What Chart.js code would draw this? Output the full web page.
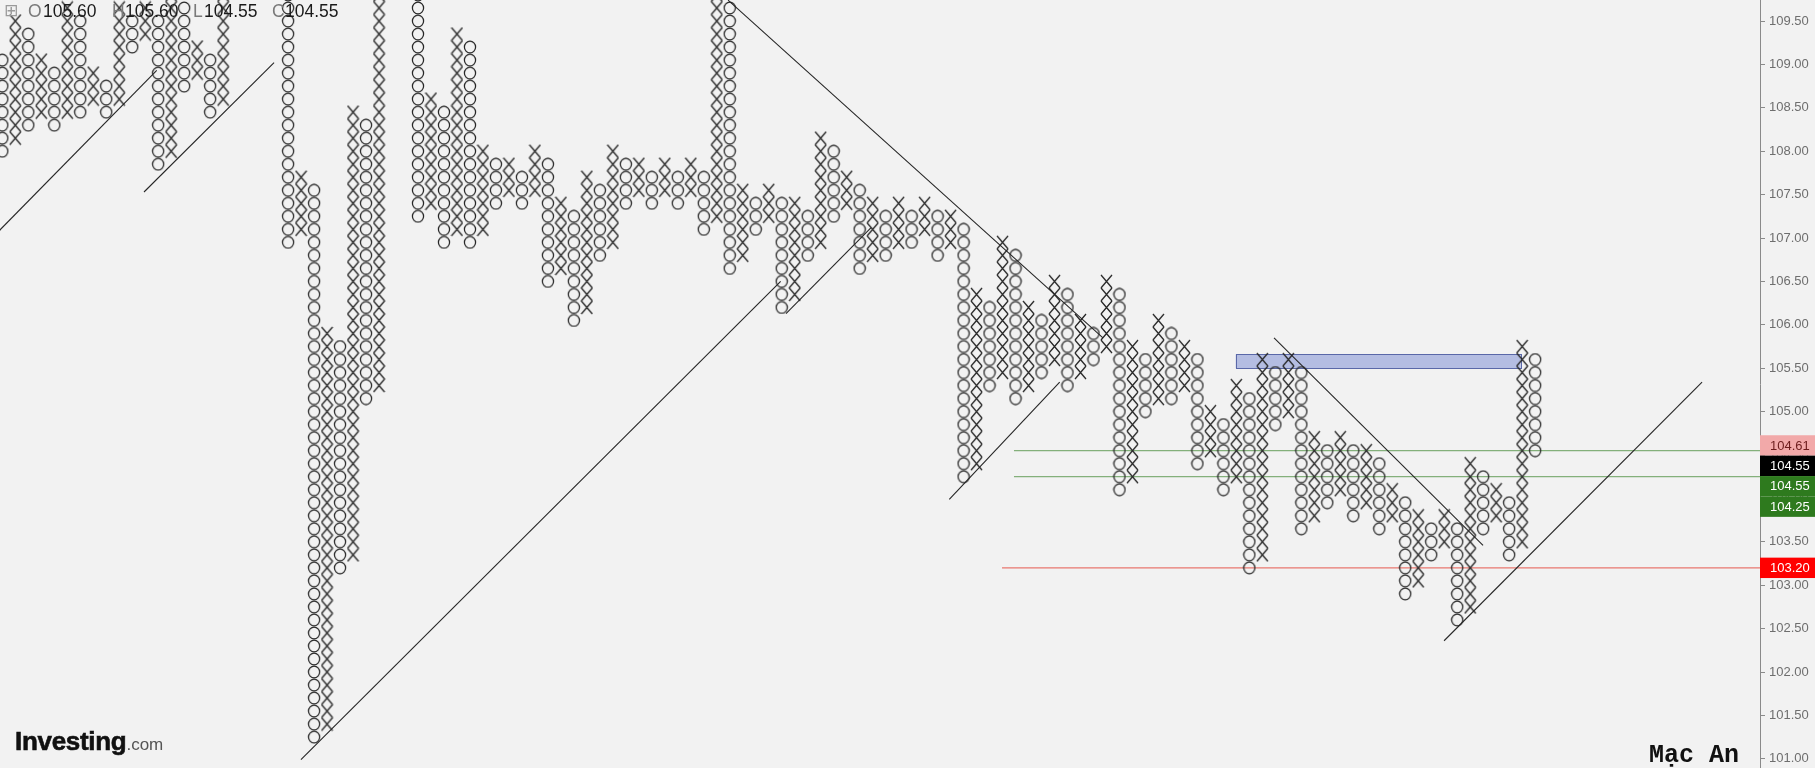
<!DOCTYPE html>
<html>
<head>
<meta charset="utf-8">
<script src="https://cdn.jsdelivr.net/npm/chart.js@4.4.1/dist/chart.umd.min.js"></script>
<style>
  html, body { margin: 0; padding: 0; background: #f2f2f2; }
  #wrap { position: relative; width: 1815px; height: 768px; overflow: hidden; background: #f2f2f2; }
  #pf { position: absolute; left: 0; top: 0; }
  .t { position: absolute; white-space: nowrap; line-height: 1; }
  .lab { font: 17.5px "Liberation Sans", Arial, sans-serif; color: #7a7a7a; top: 1px; }
  .val { font: 17.5px "Liberation Sans", Arial, sans-serif; color: #1a1a1a; top: 1px; }
</style>
</head>
<body>
<div id="wrap">
  <canvas id="pf" width="1815" height="768"></canvas>

  <div class="t" style="left:4px;top:0px;font:17px 'DejaVu Sans';color:#9a9a9a;">⊞</div>
  <div class="t lab" style="left:28px">O</div><div class="t val" style="left:43px">105.60</div>
  <div class="t lab" style="left:112px">H</div><div class="t val" style="left:125px">105.60</div>
  <div class="t lab" style="left:193px">L</div><div class="t val" style="left:204px">104.55</div>
  <div class="t lab" style="left:272px">C</div><div class="t val" style="left:285px">104.55</div>

  <div class="t" style="left:15px;top:726px;line-height:26px;">
    <span style="font:bold 26px 'Liberation Sans', Arial, sans-serif;color:#111;letter-spacing:-0.3px;-webkit-text-stroke:0.6px #111;">Investing</span><span style="font:17px 'Liberation Sans', Arial, sans-serif;color:#555;">.com</span>
  </div>
  <div class="t" style="left:1649px;top:741px;font:bold 25px 'Liberation Mono', monospace;color:#111;">Mạc An</div>
</div>

<script>
// ------------------------------------------------------- //
// Point & figure data (box size 0.15, 3-box reversal)
// ------------------------------------------------------ //
var BOX = 0.15;
var firstKind = 'O';   // columns alternate O / X from the left

var colHigh = [
  109.05, 109.50, 109.35, 109.05, 108.90, 109.65, 109.50, 108.90, 108.75, 109.65,
  109.50, 109.65, 109.50, 109.80, 109.65, 109.20, 109.05, 110.40, 110.25, 110.55,
  110.40, 110.70, 110.55, 107.70, 107.55, 105.90, 105.75, 108.45, 108.30, 110.55,
  110.40, 110.70, 110.55, 108.60, 108.45, 109.35, 109.20, 108.00, 107.85, 107.85,
  107.70, 108.00, 107.85, 107.40, 107.25, 107.70, 107.55, 108.00, 107.85, 107.85,
  107.70, 107.85, 107.70, 107.85, 107.70, 109.80, 109.65, 107.55, 107.40, 107.55,
  107.40, 107.40, 107.25, 108.15, 108.00, 107.70, 107.55, 107.40, 107.25, 107.40,
  107.25, 107.40, 107.25, 107.25, 107.10, 106.35, 106.20, 106.95, 106.80, 106.20,
  106.05, 106.50, 106.35, 106.05, 105.90, 106.50, 106.35, 105.75, 105.60, 106.05,
  105.90, 105.75, 105.60, 105.00, 104.85, 105.30, 105.15, 105.60, 105.45, 105.60,
  105.45, 104.70, 104.55, 104.70, 104.55, 104.55, 104.40, 104.10, 103.95, 103.80,
  103.65, 103.80, 103.65, 104.40, 104.25, 104.10, 103.95, 105.75, 105.60
];

var colLow = [
  108.00, 108.15, 108.30, 108.45, 108.30, 108.45, 108.45, 108.60, 108.45, 108.60,
  109.20, 109.35, 107.85, 108.00, 108.75, 108.90, 108.45, 108.60, 109.95, 110.10,
  110.10, 110.25, 106.95, 107.10, 101.25, 101.40, 103.20, 103.35, 105.15, 105.30,
  110.10, 110.25, 107.25, 107.40, 106.95, 107.10, 106.95, 107.10, 107.40, 107.55,
  107.40, 107.55, 106.50, 106.65, 106.05, 106.20, 106.80, 106.95, 107.40, 107.55,
  107.40, 107.55, 107.40, 107.55, 107.10, 107.25, 106.65, 106.80, 107.10, 107.25,
  106.20, 106.35, 106.80, 106.95, 107.25, 107.40, 106.65, 106.80, 106.80, 106.95,
  106.95, 107.10, 106.80, 106.95, 104.25, 104.40, 105.30, 105.45, 105.15, 105.30,
  105.45, 105.60, 105.30, 105.45, 105.60, 105.75, 104.10, 104.25, 105.00, 105.15,
  105.15, 105.30, 104.40, 104.55, 104.10, 104.25, 103.20, 103.35, 104.85, 105.00,
  103.65, 103.80, 103.95, 104.10, 103.80, 103.95, 103.65, 103.80, 102.90, 103.05,
  103.35, 103.50, 102.60, 102.75, 103.65, 103.80, 103.35, 103.50, 104.55
];

var tickLabels = [101.0, 101.5, 102.0, 102.5, 103.0, 103.5, 104.0, 104.5, 105.0,
                  105.5, 106.0, 106.5, 107.0, 107.5, 108.0, 108.5, 109.0, 109.5];

// trend lines: [column, price, column, price]
var trendLines = [
  [0.60, 107.06, 12.89, 108.93],
  [11.91, 107.53, 21.92, 109.02],
  [23.99, 100.99, 60.92, 106.50],
  [61.33, 106.13, 67.88, 107.12],
  [56.87, 109.74, 85.73, 105.85],
  [73.90, 103.99, 82.40, 105.34],
  [98.90, 105.85, 114.99, 103.46],
  [111.99, 102.36, 131.85, 105.34]
];

// horizontal levels
var levelPrices = [104.55, 104.25, 103.20];
var levelFrom   = [78.88, 78.88, 77.96];

// resistance zone (columns / prices)
var zoneCols   = [95.95, 117.89];
var zonePrices = [105.50, 105.66];

// price tags on the axis
var tagPrices = [104.61, 104.55, 104.55, 104.25, 103.20];

// ------------------------------------------------------- //
// Styles
// ------------------------------------------------------ //
var ink = '#262626';
var levelColors = ['#84b07b', '#84b07b', '#e8776f'];
var tagBg = ['#f2a9a9', '#000000', '#2e7a1e', '#2e7a1e', '#ff0000'];
var tagFg = ['#6d1d1d', '#ffffff', '#ffffff', '#ffffff', '#ffffff'];
var X_MIN = 0.823, X_MAX = 136.31;
var Y_MIN = 100.894, Y_MAX = 109.742;
var tickFont = { family: 'Liberation Sans', size: 13 };

function makeX() {
  var c = document.createElement('canvas');
  c.width = 13; c.height = 15;
  var g = c.getContext('2d');
  g.strokeStyle = ink; g.lineWidth = 1.25;
  g.beginPath();
  g.moveTo(1, 1); g.lineTo(12, 14);
  g.moveTo(12, 1); g.lineTo(1, 14);
  g.stroke();
  return c;
}
function makeO() {
  var c = document.createElement('canvas');
  c.width = 14; c.height = 14;
  var g = c.getContext('2d');
  g.strokeStyle = ink; g.lineWidth = 1.25;
  g.beginPath();
  g.ellipse(7, 7, 5.6, 5.8, 0, 0, Math.PI * 2);
  g.stroke();
  return c;
}

// expand columns into boxes
var xBoxes = [], oBoxes = [];
colHigh.forEach(function (hi, i) {
  var kind = (i % 2 === 0) ? firstKind : (firstKind === 'O' ? 'X' : 'O');
  var k0 = Math.round(colLow[i] / BOX), k1 = Math.round(hi / BOX);
  for (var k = k0; k <= k1; k++) {
    (kind === 'X' ? xBoxes : oBoxes).push({ x: i + 1, y: +(k * BOX).toFixed(2) });
  }
});

var datasets = [
  { data: xBoxes, pointStyle: makeX(), pointRadius: 7, pointBorderWidth: 0, showLine: false },
  { data: oBoxes, pointStyle: makeO(), pointRadius: 7, pointBorderWidth: 0, showLine: false }
];
trendLines.forEach(function (l) {
  datasets.push({
    data: [{ x: l[0], y: l[1] }, { x: l[2], y: l[3] }],
    showLine: true, borderColor: ink, borderWidth: 1.1, pointRadius: 0
  });
});
levelPrices.forEach(function (p, i) {
  datasets.push({
    data: [{ x: levelFrom[i], y: p }, { x: X_MAX, y: p }],
    showLine: true, borderColor: levelColors[i], borderWidth: 1.3, pointRadius: 0
  });
});

// ------------------------------------------------------- //
// Plugins: zone rectangle and axis price tags
// ------------------------------------------------------ //
var zonePlugin = {
  id: 'zone',
  beforeDatasetsDraw: function (chart) {
    var xs = chart.scales.x, ys = chart.scales.y, ctx = chart.ctx;
    var x0 = xs.getPixelForValue(zoneCols[0]), x1 = xs.getPixelForValue(zoneCols[1]);
    var y0 = ys.getPixelForValue(zonePrices[1]), y1 = ys.getPixelForValue(zonePrices[0]);
    ctx.save();
    ctx.fillStyle = 'rgba(118,136,210,0.5)';
    ctx.strokeStyle = '#5a68a8';
    ctx.lineWidth = 1;
    ctx.fillRect(x0, y0, x1 - x0, y1 - y0);
    ctx.strokeRect(Math.round(x0) + 0.5, Math.round(y0) + 0.5, Math.round(x1 - x0), Math.round(y1 - y0));
    ctx.restore();
  }
};

var tagPlugin = {
  id: 'tags',
  afterDraw: function (chart) {
    var ys = chart.scales.y, ctx = chart.ctx;
    var h = 20.4, prevBottom = -Infinity;
    var order = tagPrices.map(function (p, i) { return i; })
      .sort(function (a, b) { return tagPrices[b] - tagPrices[a]; });
    ctx.save();
    ctx.font = tickFont.size + 'px ' + tickFont.family;
    ctx.textBaseline = 'middle';
    ctx.textAlign = 'left';
    order.forEach(function (i) {
      var yc = Math.max(ys.getPixelForValue(tagPrices[i]), prevBottom + h / 2);
      prevBottom = yc + h / 2;
      ctx.fillStyle = tagBg[i];
      ctx.fillRect(ys.left, yc - h / 2, chart.width - ys.left, h);
      ctx.fillStyle = tagFg[i];
      ctx.fillText(tagPrices[i].toFixed(2), ys.left + 10, yc + 0.5);
    });
    ctx.restore();
  }
};

var pfChart = new Chart(document.getElementById('pf'), {
  type: 'scatter',
  data: { datasets: datasets },
  plugins: [zonePlugin, tagPlugin],
  options: {
    responsive: false,
    animation: false,
    events: [],
    layout: { padding: 0, autoPadding: false },
    plugins: { legend: { display: false }, tooltip: { enabled: false } },
    scales: {
      x: { type: 'linear', min: X_MIN, max: X_MAX, display: false },
      y: {
        type: 'linear', position: 'right', min: Y_MIN, max: Y_MAX,
        afterFit: function (s) {
          s.width = 55;
          s.paddingTop = 0;
          s.paddingBottom = 0;
        },
        afterBuildTicks: function (s) {
          s.ticks = tickLabels.map(function (v) { return { value: v }; });
        },
        grid: { display: true, drawOnChartArea: false, drawTicks: true, tickLength: 5, color: '#8a8a8a' },
        border: { display: true, color: '#8a8a8a', width: 1 },
        ticks: {
          padding: 4, color: '#6e6e6e', font: tickFont,
          callback: function (v) { return Number(v).toFixed(2); }
        }
      }
    }
  }
});
</script>
</body>
</html>
